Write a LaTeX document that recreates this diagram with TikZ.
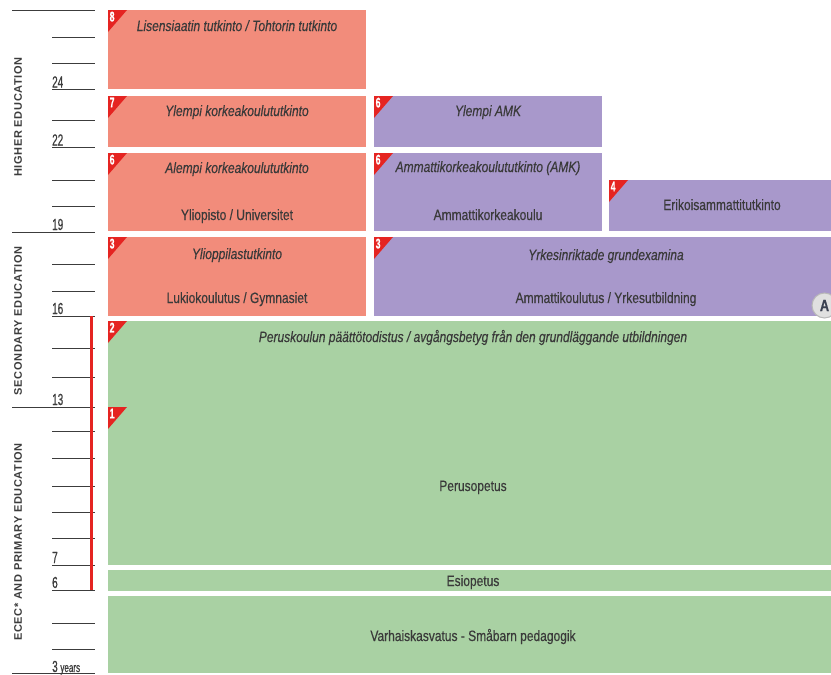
\documentclass[tikz,border=0pt]{standalone}
\usepackage{fontspec}
\setmainfont{Liberation Sans}[FakeStretch=0.8, FakeBold=0.35]
\newfontfamily\numfont{Liberation Sans}[FakeStretch=0.62, FakeBold=0.6]
\newfontfamily\axisfont{Liberation Sans}[LetterSpace=6]
\definecolor{salmon}{HTML}{F28C7B}
\definecolor{lilac}{HTML}{A898CB}
\definecolor{mint}{HTML}{A9D1A3}
\definecolor{badgered}{HTML}{E52421}
\definecolor{ink}{HTML}{3A3A3A}
\definecolor{tick}{HTML}{3C3C3C}
\definecolor{amarkink}{HTML}{3A4050}
\newcommand\edubox[5]{\path[fill=#5] (#1,#2) rectangle (#3,#4);}
\newcommand\badge[3]{%
  \path[fill=badgered] (#1,#2) -- ++(19,0) -- ++(-19,22) -- cycle;
  \node[badgenum] (b#1-#2) at (#1+1.5,#2+1.5) {#3};}
\tikzset{
  lbl/.style={font=\fontsize{15}{15}\selectfont, text=ink, inner sep=0pt, anchor=base},
  ilbl/.style={lbl, font=\fontsize{15}{15}\selectfont\itshape},
  badgenum/.style={font=\numfont\bfseries\fontsize{14}{14}\selectfont, text=white, inner sep=0pt, anchor=north west},
  axnum/.style={font=\numfont\fontsize{16}{16}\selectfont, text=tick, inner sep=0pt, anchor=base west},
  axlbl/.style={font=\axisfont\bfseries\fontsize{11}{11}\selectfont, text=tick, inner sep=0pt, rotate=90},
  tickline/.style={draw=tick, line width=0.9pt},
}
\begin{document}
\begin{tikzpicture}[x=1pt,y=-1pt]
\useasboundingbox (0,0) rectangle (831,675);
% boxes
\edubox{108}{10}{366}{89}{salmon}
\edubox{108}{96}{366}{147}{salmon}
\edubox{108}{153}{366}{231}{salmon}
\edubox{108}{237}{366}{316}{salmon}
\edubox{374}{96}{602}{147}{lilac}
\edubox{374}{153}{602}{231}{lilac}
\edubox{609}{180}{831}{231}{lilac}
\edubox{374}{237}{831}{316}{lilac}
\edubox{108}{321}{831}{565}{mint}
\edubox{108}{570}{831}{591}{mint}
\edubox{108}{596}{831}{673}{mint}
% badges
\badge{108}{10}{8}
\badge{108}{96}{7}
\badge{108}{153}{6}
\badge{108}{237}{3}
\badge{374}{96}{6}
\badge{374}{153}{6}
\badge{609}{180}{4}
\badge{374}{237}{3}
\badge{108}{321}{2}
\badge{108}{407}{1}
% labels
\node[ilbl] (t8) at (237,31) {Lisensiaatin tutkinto / Tohtorin tutkinto};
\node[ilbl] (t7) at (237,116) {Ylempi korkeakoulututkinto};
\node[ilbl] (t6) at (237,173) {Alempi korkeakoulututkinto};
\node[lbl] (u6) at (237,220) {Yliopisto / Universitet};
\node[ilbl] (t3) at (237,259) {Ylioppilastutkinto};
\node[lbl] (u3) at (237,303) {Lukiokoulutus / Gymnasiet};
\node[ilbl] (a7) at (488,116) {Ylempi AMK};
\node[ilbl] (a6) at (488,172) {Ammattikorkeakoulututkinto (AMK)};
\node[lbl] (b6) at (488,220) {Ammattikorkeakoulu};
\node[lbl] (e4) at (722,210) {Erikoisammattitutkinto};
\node[ilbl] (y3) at (606,260) {Yrkesinriktade grundexamina};
\node[lbl] (v3) at (606,303) {Ammattikoulutus / Yrkesutbildning};
\node[ilbl] (p2) at (473,342) {Peruskoulun päättötodistus / avgångsbetyg från den grundläggande utbildningen};
\node[lbl] (p1) at (473,491) {Perusopetus};
\node[lbl] (es) at (473,586) {Esiopetus};
\node[lbl] (va) at (473,641) {Varhaiskasvatus - Småbarn pedagogik};
% A marker
\node[circle, minimum size=25pt, inner sep=0pt, fill=black!12, draw=black!28, line width=1pt,
      font=\bfseries\fontsize{16}{16}\selectfont, text=amarkink] (amark) at (824.5,305.5) {A};
% axis
\foreach \yy in {10,232,407,673} \draw[tickline] (12,\yy) -- (95,\yy);
\foreach \yy in {37.5,63,89,120.5,147.5,180,206.5,264,291.5,316,348,377,431,458,486,512,538,565,590,623,649}
  \draw[tickline] (52,\yy) -- (95,\yy);
\draw[badgered, line width=3pt] (91.5,316) -- (91.5,590);
\node[axnum] (n24) at (52,87.5) {24};
\node[axnum] (n22) at (52,145.5) {22};
\node[axnum] (n19) at (52,230) {19};
\node[axnum] (n16) at (52,314) {16};
\node[axnum] (n13) at (52,405) {13};
\node[axnum] (n7) at (52,563) {7};
\node[axnum] (n6) at (52,588) {6};
\node[axnum] (n3) at (52,672) {3\,\fontsize{13}{13}\selectfont years};
\node[axlbl] (h1) at (18,117) {HIGHER EDUCATION};
\node[axlbl] (h2) at (18,321) {SECONDARY EDUCATION};
\node[axlbl] (h3) at (18,542) {ECEC* AND PRIMARY EDUCATION};
\end{tikzpicture}
\end{document}
